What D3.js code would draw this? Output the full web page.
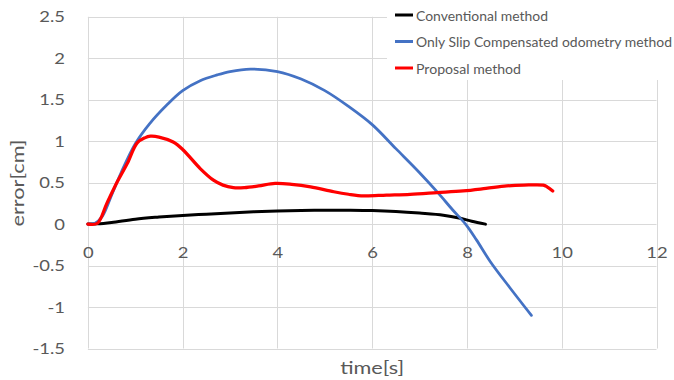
<!DOCTYPE html>
<html>
<head>
<meta charset="utf-8">
<script src="https://cdn.jsdelivr.net/npm/d3@7/dist/d3.min.js"></script>
<style>
    body { margin: 0; background: #fff; }
    #chart { width: 674px; height: 380px; }
    text { font-family: Lato, 'Open Sans', sans-serif; fill: #595959; }
</style>
</head>
<body>
<div id="chart"></div>
<script>
///// DATOS //////
let seriesNames = ['Conventional method', 'Only Slip Compensated odometry method', 'Proposal method'];

let conventionalTime  = [0, 0.2, 0.5, 1, 1.5, 2, 2.5, 3, 3.5, 4, 4.5, 5, 5.5, 6, 6.5, 7, 7.5, 7.86, 8.1, 8.39];
let conventionalError = [0, 0.003, 0.02, 0.06, 0.085, 0.105, 0.12, 0.135, 0.148, 0.158, 0.165, 0.168, 0.167, 0.163, 0.152, 0.133, 0.108, 0.07, 0.035, 0];

let slipTime  = [0, 0.15, 0.3, 0.5, 0.7, 1.0, 1.3, 1.67, 2.0, 2.37, 2.73, 3.0, 3.43, 4.0, 4.5, 5.0, 5.5, 6.0, 6.5, 7.0, 7.4, 7.7, 7.97, 8.2, 8.49, 8.91, 9.36];
let slipError = [0, 0.01, 0.09, 0.35, 0.62, 0.97, 1.21, 1.44, 1.61, 1.73, 1.80, 1.84, 1.87, 1.84, 1.75, 1.61, 1.42, 1.20, 0.91, 0.62, 0.37, 0.17, 0, -0.19, -0.45, -0.77, -1.10];

let proposalTime  = [0, 0.2, 0.4, 0.62, 0.83, 1.04, 1.2, 1.32, 1.5, 1.8, 2.0, 2.37, 2.65, 2.85, 3.07, 3.3, 3.6, 3.95, 4.3, 4.7, 5.19, 5.5, 5.82, 6.3, 6.8, 7.37, 7.92, 8.4, 8.84, 9.2, 9.61, 9.69, 9.81];
let proposalError = [0, 0.01, 0.25, 0.51, 0.73, 0.98, 1.04, 1.06, 1.05, 0.99, 0.90, 0.67, 0.53, 0.47, 0.44, 0.44, 0.46, 0.49, 0.48, 0.45, 0.39, 0.36, 0.34, 0.35, 0.36, 0.38, 0.40, 0.43, 0.46, 0.47, 0.47, 0.45, 0.40];

let xTicks = [0, 2, 4, 6, 8, 10, 12];
let yTicks = [-1.5, -1, -0.5, 0, 0.5, 1, 1.5, 2, 2.5];
let xTitle = 'time[s]', yTitle = 'error[cm]';

///// ESTILOS //////
let lineColors = ['#000000', '#4472C4', '#FF0000'];
let lineWidths = [3, 2.75, 3.25];
let legendTextLength = [132, 256, 105];

let innerData = [
    conventionalTime.map(function(t, i) { return {t: t, v: conventionalError[i]}; }),
    slipTime.map(function(t, i) { return {t: t, v: slipError[i]}; }),
    proposalTime.map(function(t, i) { return {t: t, v: proposalError[i]}; })
];

let chartBlock = d3.select('#chart'), chart, x_c, y_c;

initChart();

function initChart() {
    chart = chartBlock.append('svg')
        .attr('width', 674)
        .attr('height', 380);

    x_c = d3.scaleLinear().domain([0, 12]).range([87.9, 656.5]);
    y_c = d3.scaleLinear().domain([-1.5, 2.5]).range([348.5, 16.8]);

    //Rejilla
    let grid = chart.append('g').attr('stroke', '#d9d9d9').attr('stroke-width', 1);
    grid.selectAll('.hgrid')
        .data(yTicks)
        .join('line')
        .attr('x1', x_c(0)).attr('x2', x_c(12))
        .attr('y1', function(d) { return Math.round(y_c(d)) + 0.5; })
        .attr('y2', function(d) { return Math.round(y_c(d)) + 0.5; });
    grid.selectAll('.vgrid')
        .data(xTicks)
        .join('line')
        .attr('y1', y_c(-1.5)).attr('y2', y_c(2.5))
        .attr('x1', function(d) { return Math.round(x_c(d)) + 0.5; })
        .attr('x2', function(d) { return Math.round(x_c(d)) + 0.5; });

    //Eje Y
    let yAxis = chart.append('g')
        .attr('transform', 'translate(' + x_c(0) + ',0)')
        .call(d3.axisLeft(y_c).tickValues(yTicks).tickSize(0).tickFormat(function(d) { return String(d); }));
    yAxis.select('.domain').remove();
    yAxis.selectAll('text')
        .attr('x', 0)
        .attr('transform', 'translate(-22.9,0) scale(1.15,1)')
        .style('font-size', '16px')
        .style('font-family', 'Lato, sans-serif')
        .attr('fill', '#595959');

    //Eje X (etiquetas junto a la línea del cero)
    let xAxis = chart.append('g')
        .attr('transform', 'translate(0,' + y_c(0) + ')')
        .call(d3.axisBottom(x_c).tickValues(xTicks).tickSize(0).tickPadding(23));
    xAxis.select('.domain').remove();
    xAxis.selectAll('text')
        .attr('transform', 'scale(1.15,1)')
        .style('font-size', '16px')
        .style('font-family', 'Lato, sans-serif')
        .attr('fill', '#595959');

    //Títulos de ejes
    chart.append('text')
        .attr('x', x_c(6)).attr('y', 366.5)
        .attr('text-anchor', 'middle')
        .attr('dominant-baseline', 'central')
        .attr('textLength', 64).attr('lengthAdjust', 'spacingAndGlyphs')
        .style('font-size', '18px')
        .text(xTitle);

    chart.append('text')
        .attr('transform', 'translate(17,183) rotate(-90)')
        .attr('text-anchor', 'middle')
        .attr('dominant-baseline', 'central')
        .attr('textLength', 87).attr('lengthAdjust', 'spacingAndGlyphs')
        .style('font-size', '18px')
        .text(yTitle);

    //Líneas
    let line = d3.line()
        .x(function(d) { return x_c(d.t); })
        .y(function(d) { return y_c(d.v); })
        .curve(d3.curveCatmullRom.alpha(0.5));

    chart.selectAll('.serie')
        .data(innerData)
        .join('path')
        .attr('class', 'serie')
        .attr('fill', 'none')
        .attr('stroke', function(d, i) { return lineColors[i]; })
        .attr('stroke-width', function(d, i) { return lineWidths[i]; })
        .attr('stroke-linejoin', 'round')
        .attr('stroke-linecap', 'round')
        .attr('d', line);

    //Leyenda
    chart.append('rect')
        .attr('x', 387).attr('y', 0)
        .attr('width', 287).attr('height', 80)
        .attr('fill', '#fff');

    let legend = chart.selectAll('.legend')
        .data(seriesNames)
        .join('g')
        .attr('class', 'legend')
        .attr('transform', function(d, i) { return 'translate(395,' + (15 + i * 26.5) + ')'; });

    legend.append('line')
        .attr('x1', 0).attr('x2', 18)
        .attr('stroke', function(d, i) { return lineColors[i]; })
        .attr('stroke-width', 3);

    legend.append('text')
        .attr('x', 21)
        .attr('dominant-baseline', 'central')
        .attr('textLength', function(d, i) { return legendTextLength[i]; })
        .attr('lengthAdjust', 'spacingAndGlyphs')
        .style('font-size', '14px')
        .text(function(d) { return d; });
}
</script>
</body>
</html>
